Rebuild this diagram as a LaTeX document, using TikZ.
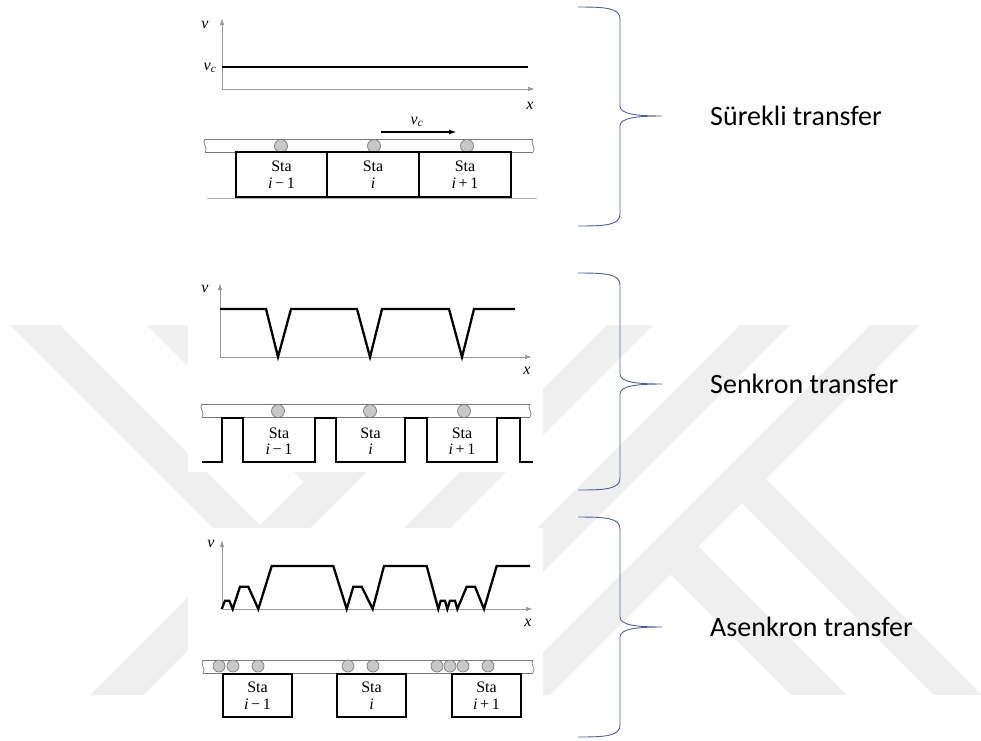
\documentclass[tikz,border=0pt]{standalone}
\usepackage{fontspec}
\setmainfont{Liberation Serif}
\newfontfamily\labelfont{Carlito}
\usetikzlibrary{arrows.meta,positioning}

\definecolor{bracecol}{HTML}{4F5FA0}
\definecolor{markgray}{HTML}{EFEFEF}
\definecolor{axisgray}{HTML}{9A9A9A}
\definecolor{railgray}{HTML}{7A7A7A}
\definecolor{partgray}{HTML}{C8C8C8}

\newcommand{\stafont}{\fontsize{16}{16.5}\selectfont}
\newcommand{\stalabel}[1]{Sta\\#1}

\tikzset{
  axis/.style={draw=axisgray, line width=0.9pt, -{Latex[length=7pt,width=4.5pt]}},
  speed/.style={line width=2.3pt, line join=miter},
  stabox/.style={draw, line width=2.3pt, minimum height=45pt, align=center, font=\stafont, inner sep=0pt},
  statext/.style={align=center, font=\stafont, inner sep=0pt},
  axlabel/.style={font=\stafont\itshape, inner sep=0pt},
  part/.style={draw=railgray, fill=partgray, line width=0.7pt},
  brace/.style={draw=bracecol, line width=0.9pt},
  kind/.style={font=\labelfont\fontsize{28}{34}\selectfont, inner sep=0pt},
}

% conveyor rail: left x, right x, top y
\newcommand{\conveyor}[3]{%
  \fill[white] (#1,#3) rectangle (#2,#3+13);
  \draw[railgray, line width=0.7pt] (#1,#3) -- (#2,#3) (#1,#3+13) -- (#2,#3+13);
  \draw[railgray, line width=0.7pt] (#1,#3) .. controls (#1-4,#3+4) and (#1+4,#3+9) .. (#1,#3+13);
  \draw[railgray, line width=0.7pt] (#2,#3) .. controls (#2-4,#3+4) and (#2+4,#3+9) .. (#2,#3+13);
}
% curly bracket: top y, tip y, bottom y
\newcommand{\bracket}[3]{%
  \draw[brace] (578,#1) .. controls (606,#1) and (620,#1+1) .. (620,#1+12) -- (620,#2-10)
    .. controls (620,#2-2) and (636,#2) .. (662,#2)
    .. controls (636,#2) and (620,#2+2) .. (620,#2+10) -- (620,#3-12)
    .. controls (620,#3-1) and (606,#3) .. (578,#3);
}

\begin{document}
\begin{tikzpicture}[x=1pt, y=-1pt]
\useasboundingbox (0,0) rectangle (981,740);

% watermark
\fill[markgray] (10,325) -- (60,325) -- (286.5,551.5) -- (261.5,576.5) -- cycle;
\fill[markgray] (147,325) -- (197,325) -- (355,483) -- (330,508) -- cycle;
\fill[markgray] (460,325) -- (513,325) -- (143,695) -- (90,695) -- cycle;
\fill[markgray] (607,325) -- (653,325) -- (283,695) -- (237,695) -- cycle;
\fill[markgray] (740,325) -- (790,325) -- (420,695) -- (370,695) -- cycle;
\fill[markgray] (870,325) -- (920,325) -- (550,695) -- (500,695) -- cycle;
\fill[markgray] (766,479) -- (982,695) -- (934,695) -- (742,503) -- cycle;
\fill[markgray] (698.5,546.5) -- (847,695) -- (791,695) -- (670.5,574.5) -- cycle;

% picture backgrounds
\fill[white] (188,0) rectangle (548,215);
\fill[white] (188,270) rectangle (543,472);
\fill[white] (188,528) rectangle (543,740);

% continuous transfer
\coordinate (o1) at (222,89);
\coordinate (v1top) at (222,18);
\coordinate (x1end) at (535,89);
\draw[axis] (o1) -- (v1top);
\draw[axis] (o1) -- (x1end);
\node[axlabel] (v1) at (205,25) {v};
\node[axlabel] (x1) at (530,106) {x};
\node[axlabel] (vc1) at (210,68) {v\textsubscript{c}};
\draw[speed] (222,67) -- (528,67);
\draw[gray!60, line width=0.8pt] (207,198.5) -- (537,198.5);
\conveyor{205}{533}{139}
\foreach \cx in {281,374,467} \draw[part] (\cx,146) circle[radius=6.5pt];
\node[stabox, minimum width=91pt] (p1a) at (281.5,174.5) {\stalabel{\textit{i}\,−\,1}};
\node[stabox, minimum width=92pt] (p1b) at (373,174.5) {\stalabel{\textit{i}}};
\node[stabox, minimum width=92pt] (p1c) at (465,174.5) {\stalabel{\textit{i}\,+\,1}};
\coordinate (vcstart) at (381,132);
\coordinate (vcend) at (457,132);
\draw[line width=1.6pt, -{Latex[length=8pt,width=5pt]}] (vcstart) -- (vcend);
\node[axlabel] (vc2) at (417,122) {v\textsubscript{c}};

% synchronous transfer
\coordinate (o2) at (220,357);
\coordinate (v2top) at (220,283);
\coordinate (x2end) at (532,357);
\draw[axis] (o2) -- (v2top);
\draw[axis] (o2) -- (x2end);
\node[axlabel] (v2) at (205,289) {v};
\node[axlabel] (x2) at (527,371) {x};
\draw[speed] (220,309) -- (266,309) -- (278,357) -- (291,309) -- (357,309) -- (370,357)
  -- (382,309) -- (449,309) -- (462,357) -- (474,309) -- (515,309);
\conveyor{202}{530}{404}
\foreach \cx in {278,370,464} \draw[part] (\cx,411) circle[radius=6.5pt];
\draw[speed] (202,462) -- (222,462) -- (222,418) -- (243,418) -- (243,462) -- (315,462)
  -- (315,418) -- (336,418) -- (336,462) -- (405,462) -- (405,418) -- (427,418)
  -- (427,462) -- (497,462) -- (497,418) -- (520,418) -- (520,462) -- (533,462);
\node[statext] (p2a) at (279,441) {\stalabel{\textit{i}\,−\,1}};
\node[statext] (p2b) at (370.5,441) {\stalabel{\textit{i}}};
\node[statext] (p2c) at (462,441) {\stalabel{\textit{i}\,+\,1}};

% asynchronous transfer
\coordinate (o3) at (222,609);
\coordinate (v3top) at (222,540);
\coordinate (x3end) at (533,609);
\draw[axis] (o3) -- (v3top);
\draw[axis] (o3) -- (x3end);
\node[axlabel] (v3) at (211,544) {v};
\node[axlabel] (x3) at (528,623) {x};
\draw[speed] (221.7,609) -- (225,600.7) -- (229.3,600.7) -- (232.7,609) -- (240,586.7)
  -- (248.3,586.7) -- (258.3,609) -- (271.7,566) -- (333.3,566) -- (346.7,609)
  -- (353.3,586.7) -- (361.7,586.7) -- (372.7,609) -- (384,566) -- (426.7,566)
  -- (438.3,609) -- (440.7,600.7) -- (445,600.7) -- (447.3,609) -- (450,600.7)
  -- (455,600.7) -- (457.3,609) -- (466.7,586.7) -- (475,586.7) -- (484,609)
  -- (496.7,566) -- (530,566);
\conveyor{203}{533}{660}
\foreach \cx in {219,233,258,348,373,437,450,463,488} \draw[part] (\cx,666) circle[radius=6pt];
\node[stabox, minimum width=69pt, minimum height=43pt] (p3a) at (257.5,695.5) {\stalabel{\textit{i}\,−\,1}};
\node[stabox, minimum width=69pt, minimum height=43pt] (p3b) at (371.5,695.5) {\stalabel{\textit{i}}};
\node[stabox, minimum width=69pt, minimum height=43pt] (p3c) at (486.5,695.5) {\stalabel{\textit{i}\,+\,1}};

% brackets and their labels
\bracket{7}{116}{226}
\bracket{273}{384}{490}
\bracket{517}{627}{737}
\coordinate (tip1) at (662,116);
\coordinate (tip2) at (662,384);
\coordinate (tip3) at (662,627);
\node[kind, right=48pt of tip1] (surekli) {Sürekli transfer};
\node[kind, right=48pt of tip2] (senkron) {Senkron transfer};
\node[kind, right=48pt of tip3] (asenkron) {Asenkron transfer};
\end{tikzpicture}
\end{document}
